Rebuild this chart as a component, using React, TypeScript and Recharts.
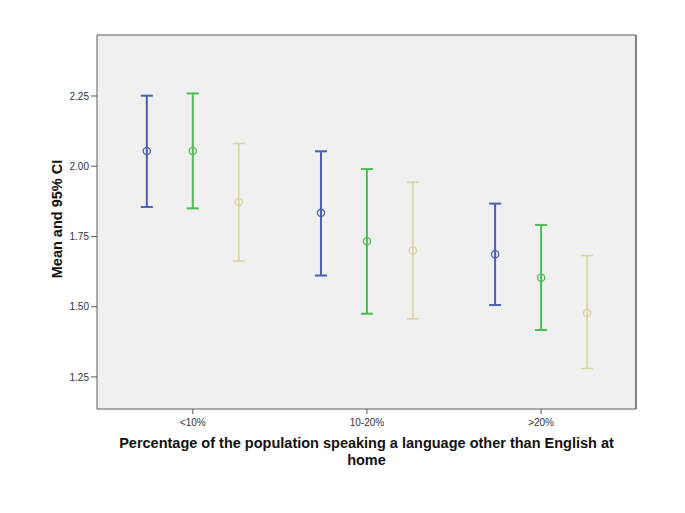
import React from "react";
import {
  ComposedChart,
  Scatter,
  ErrorBar,
  XAxis,
  YAxis,
  CartesianGrid,
  ReferenceLine,
  Label,
} from "recharts";

const categories = ["<10%", "10-20%", ">20%"];
const seriesNames = ["Group 1", "Group 2", "Group 3"];
const seriesColors = ["#4a5eb4", "#4cbd55", "#d8d49e"];
const seriesOffsets = [-0.264, 0, 0.264];

// mean and 95% CI bounds, one row per series, one column per category
const means = [
  [2.054, 1.834, 1.687],
  [2.054, 1.733, 1.603],
  [1.873, 1.7, 1.478],
];
const lowerCI = [
  [1.855, 1.611, 1.506],
  [1.85, 1.475, 1.417],
  [1.663, 1.457, 1.28],
];
const upperCI = [
  [2.251, 2.053, 1.867],
  [2.259, 1.99, 1.791],
  [2.081, 1.943, 1.682],
];
const yTicks = [1.25, 1.5, 1.75, 2.0, 2.25];

const font = "'Liberation Sans', Arial, sans-serif";
const xDomain: [number, number] = [0.45, 3.545];
const yDomain: [number, number] = [1.136, 2.467];
const frame = "#5a5a5a";

const seriesData = seriesNames.map((name, s) =>
  categories.map((cat, i) => ({
    name,
    cat,
    x: i + 1 + seriesOffsets[s],
    y: means[s][i],
    err: [means[s][i] - lowerCI[s][i], upperCI[s][i] - means[s][i]],
  }))
);

const circle = (color: string) => (p: any) =>
  <circle cx={p.cx} cy={p.cy} r={3.6} fill="none" stroke={color} strokeWidth={1.3} />;

const XTitle = (props: any) => {
  const vb = props.viewBox;
  const cx = vb.x + vb.width / 2;
  return (
    <text x={cx} textAnchor="middle" fontFamily={font} fontWeight="bold" fontSize={14.5} fill="#111">
      <tspan x={cx} y={vb.y + 39}>
        Percentage of the population speaking a language other than English at
      </tspan>
      <tspan x={cx} y={vb.y + 56}>home</tspan>
    </text>
  );
};

const YTitle = (props: any) => {
  const vb = props.viewBox;
  const x = 49;
  const y = vb.y + vb.height / 2 - 3;
  return (
    <text
      x={x}
      y={y}
      transform={`rotate(-90 ${x} ${y})`}
      textAnchor="middle"
      dominantBaseline="central"
      fontFamily={font}
      fontWeight="bold"
      fontSize={14.5}
      fill="#111"
    >
      Mean and 95% CI
    </text>
  );
};

export default function App() {
  return (
    <ComposedChart
      width={669}
      height={497}
      margin={{ top: 27, right: 41, bottom: 66, left: 29 }}
      style={{ fontFamily: font }}
    >
      <CartesianGrid fill="#f0f0f0" horizontal={false} vertical={false} />
      <XAxis
        type="number"
        dataKey="x"
        domain={xDomain}
        ticks={[1, 2, 3]}
        tickFormatter={(v: number) => categories[v - 1]}
        allowDataOverflow
        height={30}
        tickSize={5}
        tickMargin={5}
        axisLine={{ stroke: frame }}
        tickLine={{ stroke: frame }}
        tick={{ fontSize: 10, fill: "#333", fontFamily: font }}
      >
        <Label content={XTitle} />
      </XAxis>
      <YAxis
        type="number"
        dataKey="y"
        domain={yDomain}
        ticks={yTicks}
        allowDataOverflow
        width={60}
        tickSize={6}
        tickFormatter={(v: number) => v.toFixed(2)}
        axisLine={{ stroke: frame }}
        tickLine={{ stroke: frame }}
        tick={{ fontSize: 10, fill: "#333", fontFamily: font }}
      >
        <Label content={YTitle} />
      </YAxis>
      <ReferenceLine y={yDomain[1]} stroke={frame} strokeWidth={1} />
      <ReferenceLine x={xDomain[1]} stroke={frame} strokeWidth={1.5} />
      {seriesData.map((data, s) => (
        <Scatter
          key={seriesNames[s]}
          name={seriesNames[s]}
          data={data}
          shape={circle(seriesColors[s])}
          isAnimationActive={false}
        >
          <ErrorBar
            dataKey="err"
            direction="y"
            width={6}
            stroke={seriesColors[s]}
            strokeWidth={s === 2 ? 1.6 : 2}
          />
        </Scatter>
      ))}
    </ComposedChart>
  );
}
